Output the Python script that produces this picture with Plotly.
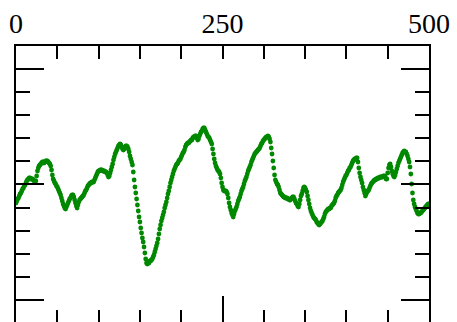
import plotly.graph_objects as go

# Series values (index 0..500)
signal = [
    120,122,124,125,127,129,130,132,134,135,
    137,138,140,142,143,144,145,145,144,144,
    144,143,142,141,142,147,152,155,157,158,
    159,160,161,161,160,161,162,162,162,161,
    160,159,157,153,148,144,142,140,139,137,
    136,134,132,130,128,125,122,119,117,115,
    114,116,118,120,122,124,125,127,128,128,
    126,123,120,117,115,118,121,123,124,125,
    126,127,128,130,132,133,135,137,138,139,
    140,140,141,141,141,143,145,147,149,151,
    152,152,153,153,153,152,152,152,151,151,
    150,148,146,147,150,153,156,159,163,166,
    169,171,173,175,177,178,179,178,176,174,
    173,174,176,177,177,176,174,171,167,164,
    161,158,151,143,136,130,124,118,112,106,
    101,95,90,85,81,76,70,64,60,59,
    61,60,62,62,63,64,66,68,71,74,
    77,80,84,89,94,98,102,105,108,111,
    115,118,121,125,129,132,136,140,143,146,
    149,152,154,156,158,159,160,162,163,164,
    166,168,170,171,173,176,178,179,180,180,
    181,182,183,183,185,186,186,187,187,185,
    183,184,187,189,191,192,194,195,195,193,
    191,189,187,186,185,183,181,179,174,169,
    164,160,157,155,153,152,151,149,145,140,
    136,133,132,132,132,131,129,125,120,116,
    113,110,108,106,109,112,114,116,119,122,
    124,126,129,132,134,136,139,142,144,146,
    149,152,154,156,158,161,163,165,167,169,
    170,171,172,173,174,175,177,179,180,182,
    183,184,185,186,186,187,186,184,181,175,
    169,162,155,148,143,141,139,138,136,133,
    130,129,128,127,126,126,125,125,125,124,
    124,123,123,124,125,126,126,124,122,120,
    119,117,116,119,123,127,129,132,135,136,
    135,133,131,127,123,119,115,112,110,108,
    106,105,104,103,101,100,99,98,99,100,
    101,102,104,106,109,111,112,113,114,114,
    115,115,117,118,119,120,122,125,127,128,
    130,131,132,133,135,138,141,143,145,147,
    148,150,152,153,155,156,158,160,162,163,
    164,164,165,165,161,155,150,146,143,140,
    136,133,130,127,129,131,132,133,135,137,
    139,140,141,142,143,143,144,144,145,145,
    145,146,146,146,146,147,147,146,144,144,
    150,155,158,159,156,152,149,147,146,148,
    151,154,157,160,162,164,166,168,170,171,
    172,171,171,169,167,164,161,156,149,139,
    130,123,119,116,114,112,110,109,109,110,
    110,111,112,113,114,115,116,117,118,119,
    119,
]
index = list(range(len(signal)))

x_range = [0, 500]
x_tick_vals = [0, 250, 500]
x_tick_text = ["0", "250", "500"]
x_minor_step = 50

y_range = [0, 277]
y_major_vals = [23.1, 138.6, 254.1]
y_minor_step = 23.1

fig = go.Figure()
fig.add_trace(go.Scatter(
    x=index, y=signal, mode="markers",
    marker=dict(color="#008800", size=4.8, line=dict(width=0)),
    showlegend=False, hoverinfo="skip",
))
# invisible trace for the top/right axes
fig.add_trace(go.Scatter(x=[None], y=[None], xaxis="x2", yaxis="y2",
                         showlegend=False, hoverinfo="skip"))

line_common = dict(showline=True, linecolor="black", linewidth=2,
                   showgrid=False, zeroline=False)

fig.update_layout(
    width=457, height=330,
    margin=dict(l=16, r=25, t=46, b=7, pad=0),
    paper_bgcolor="white", plot_bgcolor="white",
    xaxis=dict(range=x_range, tickvals=x_tick_vals, ticks="inside",
               ticklen=27, tickwidth=2, tickcolor="black",
               showticklabels=False,
               minor=dict(ticks="inside", ticklen=13, tickwidth=2,
                          tickcolor="black", dtick=x_minor_step, tick0=0),
               **line_common),
    xaxis2=dict(range=x_range, overlaying="x", side="top",
                tickvals=x_tick_vals, ticktext=x_tick_text,
                ticks="inside", ticklen=13, tickwidth=2, tickcolor="black",
                tickfont=dict(family="Liberation Serif", size=28, color="black"),
                minor=dict(ticks="inside", ticklen=13, tickwidth=2,
                           tickcolor="black", dtick=x_minor_step, tick0=0),
                **line_common),
    yaxis=dict(range=y_range, tickvals=y_major_vals, ticks="inside",
               ticklen=28, tickwidth=2, tickcolor="black",
               showticklabels=False,
               minor=dict(ticks="inside", ticklen=14, tickwidth=2,
                          tickcolor="black", dtick=y_minor_step, tick0=0),
               **line_common),
    yaxis2=dict(range=y_range, overlaying="y", side="right",
                tickvals=y_major_vals, ticks="inside",
                ticklen=28, tickwidth=2, tickcolor="black",
                showticklabels=False,
                minor=dict(ticks="inside", ticklen=14, tickwidth=2,
                           tickcolor="black", dtick=y_minor_step, tick0=0),
                **line_common),
)

fig.write_html("out.html")
